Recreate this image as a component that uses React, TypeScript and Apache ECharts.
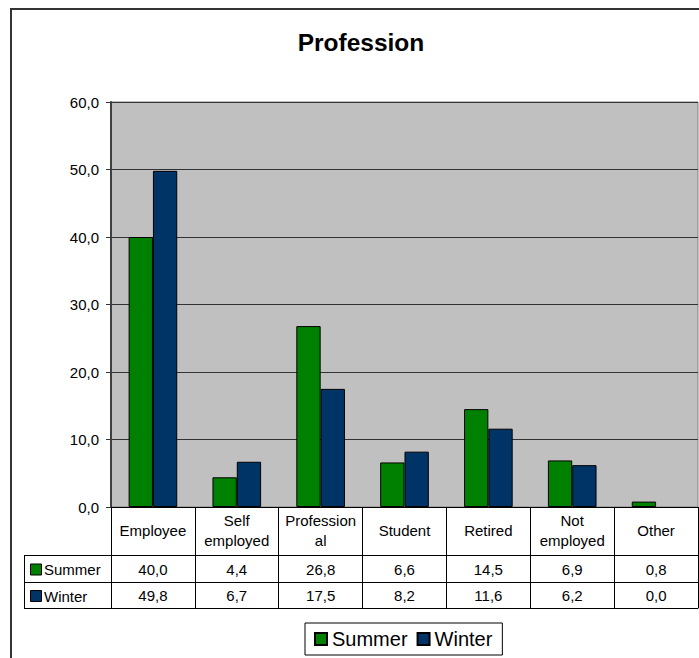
import React, { useEffect, useRef } from "react";
import * as echarts from "echarts";

// Profession breakdown, summer vs winter (percent)
const categories = ["Employee", "Self\nemployed", "Profession\nal", "Student", "Retired", "Not\nemployed", "Other"];
const summerValues = [40.0, 4.4, 26.8, 6.6, 14.5, 6.9, 0.8];
const winterValues = [49.8, 6.7, 17.5, 8.2, 11.6, 6.2, 0.0];
const seriesNames = ["Summer", "Winter"];
const seriesColors = ["#008000", "#003366"];
const yTicks = { min: 0, max: 60, interval: 10 };

const FONT = "Arial, 'Liberation Sans', sans-serif";
const fmt = (v: number) => v.toFixed(1).replace(".", ",");

// zero-height bars get no outline
const barData = (values: number[]) =>
  values.map((v) => (v === 0 ? { value: v, itemStyle: { borderWidth: 0 } } : v));

export default function App() {
  const ref = useRef<HTMLDivElement>(null);

  useEffect(() => {
    if (!ref.current) return;
    const chart = echarts.init(ref.current, null, { renderer: "svg" });

    const gridLeft = 111;
    const gridTop = 102;
    const gridBottomY = 507;
    const rowY = [555, 582, 608];
    const tableLeft = 24;

    const tableAxis = (values: string[] | null, offset: number, margin: number) => ({
      type: "category" as const,
      gridIndex: 0,
      position: "bottom" as const,
      offset,
      data: values ?? categories.map(() => ""),
      axisLine: { show: true, lineStyle: { color: "#000", width: 1 } },
      axisTick: { show: false },
      axisLabel: {
        show: values !== null,
        interval: 0,
        margin,
        verticalAlign: "middle" as const,
        fontSize: 15,
        fontFamily: FONT,
        color: "#000",
      },
      splitLine: { show: false },
    });

    chart.setOption({
      animation: false,
      backgroundColor: "#fff",
      grid: {
        left: gridLeft,
        right: 1,
        top: gridTop,
        bottom: 658 - gridBottomY,
        show: true,
        backgroundColor: "#C0C0C0",
        borderColor: "#808080",
        borderWidth: 1,
      },
      legend: {
        left: 305,
        top: 623,
        orient: "horizontal",
        data: seriesNames,
        icon: "rect",
        itemWidth: 12,
        itemHeight: 12,
        itemGap: 9,
        padding: [6, 10, 6, 9],
        borderColor: "#000",
        borderWidth: 1,
        backgroundColor: "#fff",
        textStyle: { fontSize: 20, fontFamily: FONT, color: "#000" },
      },
      xAxis: [
        {
          type: "category",
          data: categories,
          axisLine: { show: true, lineStyle: { color: "#000", width: 1 } },
          axisTick: {
            show: true,
            length: rowY[2] - gridBottomY,
            lineStyle: { color: "#000", width: 1 },
          },
          axisLabel: {
            interval: 0,
            margin: 23,
            verticalAlign: "middle",
            lineHeight: 20,
            fontSize: 15,
            fontFamily: FONT,
            color: "#000",
          },
          splitLine: { show: false },
        },
        tableAxis(summerValues.map(fmt), rowY[0] - gridBottomY, 14),
        tableAxis(winterValues.map(fmt), rowY[1] - gridBottomY, 13),
        tableAxis(null, rowY[2] - gridBottomY, 8),
      ],
      yAxis: {
        type: "value",
        min: yTicks.min,
        max: yTicks.max,
        interval: yTicks.interval,
        axisLine: { show: true, lineStyle: { color: "#404040", width: 2 } },
        axisTick: { show: true, length: 5, lineStyle: { color: "#333", width: 1 } },
        axisLabel: {
          margin: 12,
          fontSize: 15,
          fontFamily: FONT,
          color: "#000",
          formatter: (v: number) => fmt(v),
        },
        splitLine: { show: true, lineStyle: { color: "#333", width: 1 } },
      },
      series: [
        {
          name: seriesNames[0],
          type: "bar",
          xAxisIndex: 0,
          data: barData(summerValues),
          barGap: "0%",
          barCategoryGap: "42%",
          itemStyle: { color: seriesColors[0], borderColor: "#000", borderWidth: 1 },
        },
        {
          name: seriesNames[1],
          type: "bar",
          xAxisIndex: 0,
          data: barData(winterValues),
          barGap: "0%",
          barCategoryGap: "42%",
          itemStyle: { color: seriesColors[1], borderColor: "#000", borderWidth: 1 },
        },
      ],
      graphic: [
        // chart frame
        {
          type: "rect",
          shape: { x: 11, y: 9, width: 800, height: 800 },
          style: { fill: "none", stroke: "#333", lineWidth: 2 },
          silent: true,
        },
        {
          type: "text",
          x: 361,
          y: 42,
          style: {
            text: "Profession",
            fontSize: 24.5,
            fontWeight: "bold",
            fontFamily: FONT,
            fill: "#000",
            align: "center",
            verticalAlign: "middle",
          },
        },
        // data table: series-name column
        ...rowY.map((y) => ({
          type: "line",
          shape: { x1: tableLeft, y1: y + 0.5, x2: gridLeft, y2: y + 0.5 },
          style: { stroke: "#000", lineWidth: 1 },
        })),
        {
          type: "line",
          shape: { x1: tableLeft + 0.5, y1: rowY[0], x2: tableLeft + 0.5, y2: rowY[2] + 1 },
          style: { stroke: "#000", lineWidth: 1 },
        },
        ...seriesNames.flatMap((name, i) => {
          const cy = (rowY[i] + rowY[i + 1]) / 2 + 1;
          return [
            {
              type: "rect",
              shape: { x: 30.5, y: cy - 5.5, width: 11, height: 11 },
              style: { fill: seriesColors[i], stroke: "#000", lineWidth: 1 },
            },
            {
              type: "text",
              x: 44,
              y: cy,
              style: {
                text: name,
                fontSize: 15,
                fontFamily: FONT,
                fill: "#000",
                align: "left",
                verticalAlign: "middle",
              },
            },
          ];
        }),
      ],
    });

    return () => chart.dispose();
  }, []);

  return (
    <div
      ref={ref}
      style={{ position: "fixed", left: 0, top: 0, width: 699, height: 658, background: "#fff" }}
    />
  );
}
